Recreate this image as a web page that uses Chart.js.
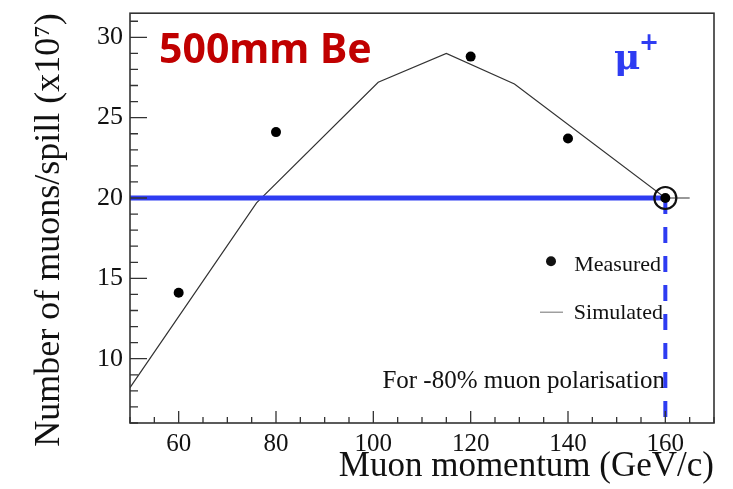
<!DOCTYPE html>
<html>
<head>
<meta charset="utf-8">
<script src="https://cdn.jsdelivr.net/npm/chart.js@4.4.1/dist/chart.umd.min.js"></script>
<style>
  html, body { margin: 0; padding: 0; background: #fff; }
  #wrap { width: 733px; height: 489px; }
</style>
</head>
<body>
<div id="wrap"><canvas id="myChart"></canvas></div>
<script>
const measuredX = [60, 80, 120, 140, 160];
const measuredY = [14.1, 24.1, 28.8, 23.7, 20.0];

const simulatedX = [50, 76, 101, 115, 129, 160, 165];
const simulatedY = [8.2, 19.7, 27.2, 29.0, 27.1, 20.0, 20.0];

const refMomentum = 160;
const refMuons = 20;

const xTicks = [60, 80, 100, 120, 140, 160];
const yTicks = [10, 15, 20, 25, 30];

const blue = '#2e3cf2';
const serif = '"Liberation Serif", "Times New Roman", serif';

function toPoints(xs, ys) {
    return xs.map((x, i) => ({ x: x, y: ys[i] }));
}

// ROOT style frame with inward ticks
const frameTicks = {
    id: 'frameTicks',
    afterDraw(chart) {
        const c = chart.ctx;
        const a = chart.chartArea;
        const xs = chart.scales.x;
        const ys = chart.scales.y;
        c.save();
        c.strokeStyle = '#333';
        c.lineWidth = 1.3;
        c.beginPath();
        for (let v = 50; v <= 170; v += 5) {
            const p = xs.getPixelForValue(v);
            const len = v % 20 === 0 ? 12 : 6;
            c.moveTo(p, a.bottom);
            c.lineTo(p, a.bottom - len);
        }
        for (let v = 6; v <= 31; v += 1) {
            const p = ys.getPixelForValue(v);
            const len = v % 5 === 0 ? 17 : 8;
            c.moveTo(a.left, p);
            c.lineTo(a.left + len, p);
        }
        c.stroke();
        c.lineWidth = 1.6;
        c.strokeRect(a.left, a.top, a.right - a.left, a.bottom - a.top);

        // y axis title
        c.fillStyle = '#111';
        c.font = '36px ' + serif;
        c.textAlign = 'center';
        c.textBaseline = 'middle';
        c.translate(50, 230);
        c.rotate(-Math.PI / 2);
        c.fillText('Number of muons/spill (x10⁷)', 0, 0);
        c.restore();
    }
};

// labels inside the frame
const labels = {
    id: 'labels',
    beforeDatasetsDraw(chart) {
        const c = chart.ctx;
        const a = chart.chartArea;
        c.save();
        c.fillStyle = '#c00000';
        c.font = 'bold 41px "Noto Sans", sans-serif';
        c.textBaseline = 'middle';
        c.textAlign = 'left';
        c.fillText('500mm Be', a.left + 29, a.top + 38);

        c.fillStyle = blue;
        c.font = 'bold 36px "DejaVu Serif", serif';
        c.fillText('μ', a.right - 100, a.top + 46);
        c.font = 'bold 24px "DejaVu Sans", sans-serif';
        c.fillText('+', a.right - 75, a.top + 31);

        c.fillStyle = '#111';
        c.textAlign = 'right';
        c.font = '22px ' + serif;
        c.fillText('Measured', a.right - 53, a.top + 252);
        c.fillText('Simulated', a.right - 51, a.top + 300);
        c.font = '25px ' + serif;
        c.fillText('For -80% muon polarisation', a.right - 49, a.top + 368);

        c.beginPath();
        c.arc(a.right - 163, a.top + 248, 5, 0, Math.PI * 2);
        c.fill();
        c.strokeStyle = '#888';
        c.lineWidth = 1.2;
        c.beginPath();
        c.moveTo(a.right - 174, a.top + 299);
        c.lineTo(a.right - 151, a.top + 299);
        c.stroke();
        c.restore();
    }
};

const ctx = document.getElementById('myChart');

new Chart(ctx, {
    type: 'scatter',
    data: {
        datasets: [
            {
                label: 'Reference',
                data: [{ x: refMomentum, y: refMuons }],
                pointRadius: 11,
                pointBorderWidth: 2.2,
                pointBorderColor: '#111',
                pointBackgroundColor: 'rgba(0,0,0,0)'
            },
            {
                label: 'Measured',
                data: toPoints(measuredX, measuredY),
                pointRadius: 5,
                pointBorderWidth: 0,
                pointBackgroundColor: '#000'
            },
            {
                label: 'Level',
                data: [{ x: 50, y: refMuons }, { x: refMomentum, y: refMuons }],
                showLine: true,
                borderColor: blue,
                borderWidth: 5,
                pointRadius: 0
            },
            {
                label: 'Cut',
                data: [{ x: refMomentum, y: refMuons }, { x: refMomentum, y: 6 }],
                showLine: true,
                borderColor: blue,
                borderWidth: 4,
                borderDash: [16, 13],
                pointRadius: 0
            },
            {
                label: 'Simulated',
                data: toPoints(simulatedX, simulatedY),
                showLine: true,
                borderColor: '#333',
                borderWidth: 1.2,
                pointRadius: 0
            }
        ]
    },
    options: {
        responsive: true,
        maintainAspectRatio: false,
        animation: false,
        layout: { padding: { top: 10, right: 19, left: 0, bottom: 0 } },
        plugins: {
            legend: { display: false },
            tooltip: { enabled: false }
        },
        scales: {
            x: {
                type: 'linear',
                min: 50,
                max: 170,
                afterBuildTicks: s => { s.ticks = xTicks.map(v => ({ value: v })); },
                afterFit: s => { s.height = 66; s.paddingLeft = 0; s.paddingRight = 0; },
                grid: { display: false, drawTicks: false },
                border: { display: false },
                ticks: { color: '#111', padding: 6, maxRotation: 0, font: { family: serif, size: 25 } },
                title: {
                    display: true,
                    text: 'Muon momentum (GeV/c)',
                    align: 'end',
                    color: '#111',
                    font: { family: serif, size: 35 },
                    padding: { top: 0, bottom: 1 }
                }
            },
            y: {
                min: 6,
                max: 31.5,
                afterBuildTicks: s => { s.ticks = yTicks.map(v => ({ value: v })); },
                afterFit: s => { s.width = 130; s.paddingTop = 0; s.paddingBottom = 0; },
                grid: { display: false, drawTicks: false },
                border: { display: false },
                ticks: { color: '#111', padding: 7, font: { family: serif, size: 26 } }
            }
        }
    },
    plugins: [labels, frameTicks]
});
</script>
</body>
</html>
